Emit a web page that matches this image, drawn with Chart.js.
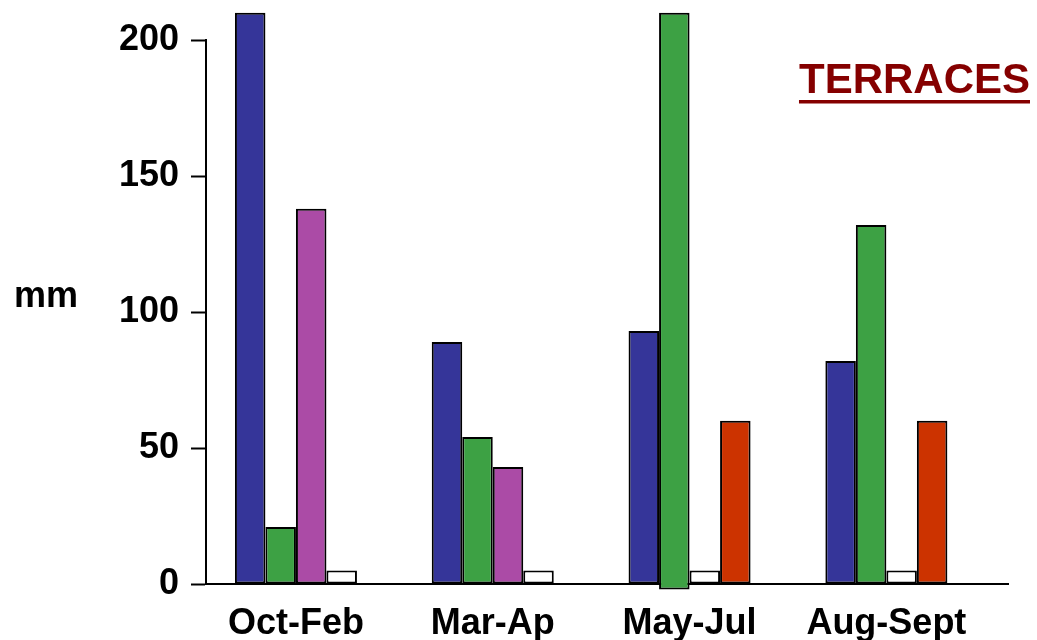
<!DOCTYPE html>
<html><head><meta charset="utf-8">
<script src="https://cdn.jsdelivr.net/npm/chart.js@4"></script>
<style>html,body{margin:0;padding:0;background:#fff}canvas{display:block}</style>
</head><body>
<canvas id="c" width="1037" height="640"></canvas>
<script>
const categories = ['Oct-Feb', 'Mar-Ap', 'May-Jul', 'Aug-Sept'];
const blueValues  = [210, 89, 93, 82];
const greenValues = [21, 54, [-2, 210], 132];
const pinkValues  = [138, 43, null, null];
const whiteValues = [5, 5, 5, 5];
const redValues   = [null, null, 60, 60];
const yTicks = [0, 50, 100, 150, 200];
const titleText = 'TERRACES';
const yAxisLabel = 'mm';

const FONT = '"Liberation Sans", Arial, sans-serif';
const toPoints = arr => arr.map((v, i) => ({ x: i, y: v }));

const textPlugin = {
  id: 'texts',
  afterDraw(chart) {
    const { ctx, chartArea } = chart;
    ctx.save();
    ctx.font = 'bold 42px ' + FONT;
    ctx.fillStyle = '#850000';
    ctx.textAlign = 'right';
    ctx.textBaseline = 'alphabetic';
    const x = chartArea.right + 22, y = 93;
    ctx.fillText(titleText, x, y);
    const w = ctx.measureText(titleText).width;
    ctx.fillRect(x - w, y + 7, w, 3.5);
    ctx.font = 'bold 36px ' + FONT;
    ctx.fillStyle = '#000';
    ctx.textAlign = 'left';
    ctx.fillText(yAxisLabel, 14, 307);
    ctx.restore();
  }
};

const ds = (data, color) => ({
  data: toPoints(data),
  backgroundColor: color,
  borderColor: '#000',
  borderWidth: 2,
  borderSkipped: false,
  categoryPercentage: 0.62,
  barPercentage: 1,
  clip: false
});

new Chart(document.getElementById('c'), {
  type: 'bar',
  data: {
    datasets: [
      ds(blueValues, '#353599'),
      ds(greenValues, '#3da144'),
      ds(pinkValues, '#ab4ba6'),
      ds(whiteValues, '#ffffff'),
      ds(redValues, '#cc3300')
    ]
  },
  options: {
    responsive: false,
    animation: false,
    skipNull: true,
    layout: { padding: { left: 0, right: 29, top: 40, bottom: 0 } },
    plugins: { legend: { display: false }, tooltip: { enabled: false }, title: { display: false } },
    scales: {
      x: {
        type: 'linear',
        offset: false,
        min: -0.457,
        max: 3.618,
        afterBuildTicks: s => { s.ticks = categories.map((_, i) => ({ value: i })); },
        afterFit: s => { s.height = 56; },
        grid: { display: false, offset: false },
        border: { display: true, color: '#000', width: 2 },
        ticks: {
          autoSkip: false, maxRotation: 0, padding: 10,
          color: '#000',
          font: { family: FONT, size: 36, weight: 'bold' },
          callback: v => categories[v]
        }
      },
      y: {
        min: 0,
        max: 200,
        afterBuildTicks: s => { s.ticks = yTicks.map(v => ({ value: v })); },
        afterFit: s => { s.width = 206; },
        grid: { drawOnChartArea: false, drawTicks: true, tickLength: 15, tickWidth: 2, tickColor: '#000' },
        border: { display: true, color: '#000', width: 2 },
        ticks: {
          padding: 12,
          color: '#000',
          font: { family: FONT, size: 36, weight: 'bold' }
        }
      }
    }
  },
  plugins: [textPlugin]
});
</script>
</body></html>
